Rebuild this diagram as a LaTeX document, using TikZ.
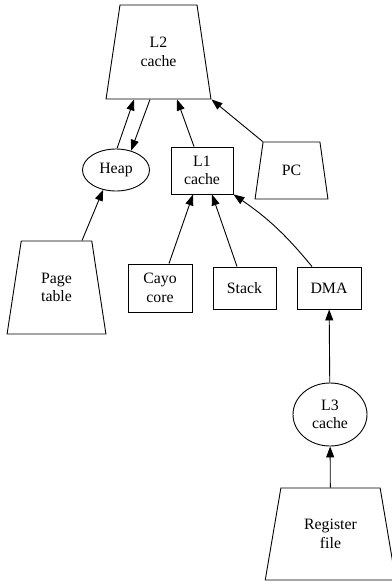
\documentclass[tikz,border=0pt]{standalone}
\usepackage{fontspec}
\setmainfont{Liberation Serif}
\usetikzlibrary{shapes.geometric,arrows.meta}
\begin{document}
\begin{tikzpicture}[x=1pt,y=-1pt,line width=0.9pt,
	every node/.style={font=\fontsize{15.8}{18.5}\selectfont, align=center, inner sep=0pt},
	unitbox/.style={draw, rectangle, minimum width=63pt, minimum height=#1},
	poolnode/.style={draw, ellipse},
	storenode/.style={draw, trapezium, trapezium stretches=true, trapezium angle=#1},
	edge/.style={-{Triangle[length=11pt,width=8pt]}}]
	\useasboundingbox (0,0) rectangle (391,585);
	\node[storenode=77.4, minimum width=105pt, minimum height=94pt] (l2) at (158.5,52) {L2\\cache};
	\node[poolnode, minimum width=67pt, minimum height=42pt] (heap) at (116,170) {Heap};
	\node[unitbox=47pt, minimum width=62pt] (l1) at (202,170.5) {L1\\cache};
	\node[storenode=75.6, minimum width=73pt, minimum height=57pt] (pc) at (291.5,170.5) {PC};
	\node[storenode=78, minimum width=99pt, minimum height=93pt] (pagetable) at (56.5,287.5) {Page\\table};
	\node[unitbox=48pt, minimum width=64pt] (cayo) at (160,288) {Cayo\\core};
	\node[unitbox=42pt] (stack) at (244.5,288) {Stack};
	\node[unitbox=42pt, minimum width=64pt] (dma) at (329,288) {DMA};
	\node[poolnode, minimum width=74pt, minimum height=63pt] (l3) at (330,414.5) {L3\\cache};
	\node[storenode=74.1, minimum width=131pt, minimum height=92pt] (regfile) at (330.5,534) {Register\\file};
	\draw[edge] ([xshift=1pt]heap.north) -- ([xshift=-24.5pt]l2.south);
	\draw[edge] ([xshift=-8.5pt]l2.south) -- (heap.52);
	\draw[edge] ([xshift=-8pt]l1.north) -- ([xshift=18.5pt]l2.south);
	\draw[edge] (pc.top left corner) -- (l2.bottom right corner);
	\draw[edge] ([xshift=25.5pt]pagetable.north) -- (heap.237);
	\draw[edge] ([xshift=9pt]cayo.north) -- ([xshift=-9pt]l1.south);
	\draw[edge] ([xshift=-7.5pt]stack.north) -- ([xshift=10pt]l1.south);
	\draw[edge] ([xshift=-17pt]dma.north) to[bend right=8] (l1.south east);
	\draw[edge] (l3) -- (dma);
	\draw[edge] (regfile) -- (l3);
\end{tikzpicture}
\end{document}
